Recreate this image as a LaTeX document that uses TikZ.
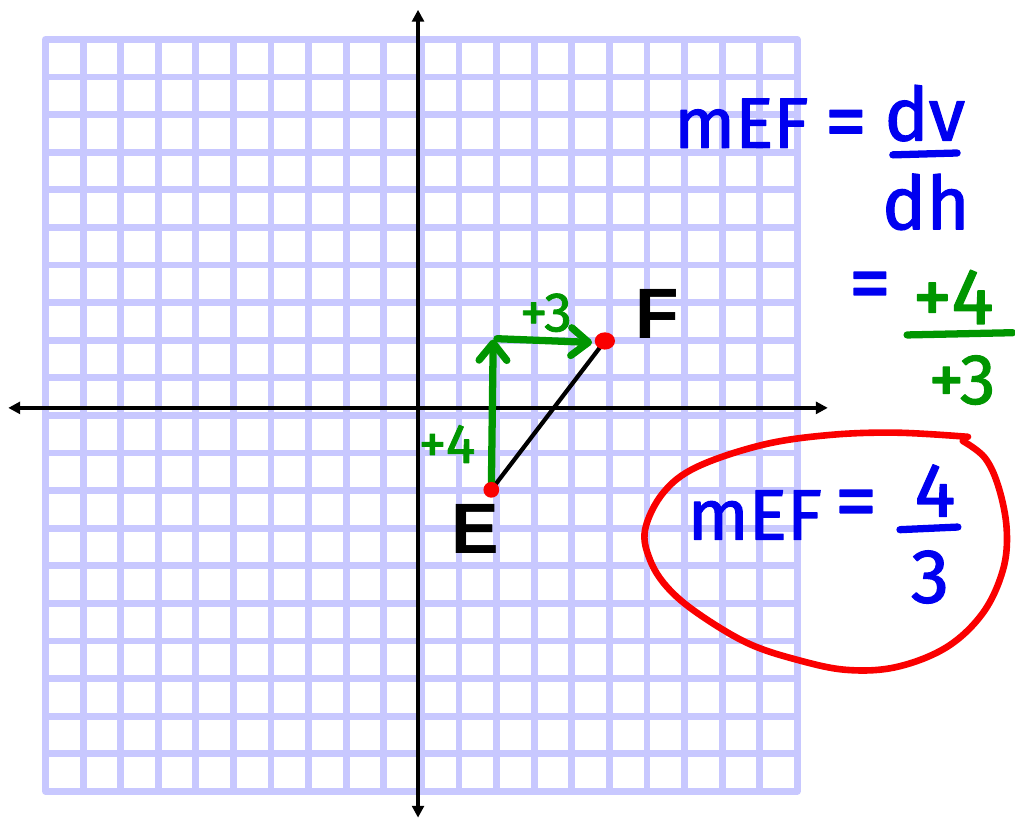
\documentclass[tikz,border=0pt]{standalone}
\usepackage{fontspec}
\setmainfont{Fira Sans}
\newfontfamily\handfont[FakeBold=1.6]{Fira Sans}
\newfontfamily\labelfont{Liberation Sans}
\usetikzlibrary{arrows.meta}
\definecolor{gridblue}{RGB}{200,200,255}
\definecolor{inkblue}{RGB}{0,0,240}
\definecolor{inkgreen}{RGB}{0,150,0}
\definecolor{inkred}{RGB}{250,0,0}

\begin{document}
\begin{tikzpicture}[
    line width=1.2pt,
    line cap=round,
    line join=round,
    gridline/.style={gridblue, line width=5.2pt, line cap=square},
    axisline/.style={line width=3pt, line cap=butt, {Triangle[length=9pt,width=9pt]}-{Triangle[length=9pt,width=9pt]}},
    greenarrow/.style={inkgreen, line width=5.5pt, -{Straight Barb[length=13pt,width=21pt,round]}},
    pointlabel/.style={font=\labelfont\bfseries\fontsize{54}{54}\selectfont},
    ink/.style={inner sep=0pt, font=\handfont\fontsize{#1}{#1}\selectfont},
    bluetext/.style={ink=#1, text=inkblue},
    greentext/.style={ink=#1, text=inkgreen}
]
\useasboundingbox (-11.12,-10.98) rectangle (15.88,10.85);

% 1. Grid and axes
\begin{scope}[shift={(0.09,-0.2)}]
\draw[gridline] (-10,-10) grid (10,10);
\end{scope}
\coordinate (xl) at (-10.9,0);
\coordinate (xr) at (10.9,0);
\coordinate (yt) at (0,10.59);
\coordinate (yb) at (0,-10.9);
\draw[axisline] (xl) -- (xr);
\draw[axisline] (yb) -- (yt);

% 2. Points E and F
\coordinate (E) at (1.95,-2.18);
\coordinate (F) at (4.97,1.78);
\draw[line width=3.2pt] (E) -- (F);
\coordinate (riseTop) at (2.0,1.82);
\coordinate (runStart) at (2.1,1.84);
\coordinate (runEnd) at (4.63,1.74);
\draw[greenarrow] (E) -- (riseTop);
\draw[greenarrow] (runStart) -- (runEnd);
\fill[inkred] (E) circle (0.21);
\fill[inkred] (F) ellipse [x radius=0.27, y radius=0.23];
\node[pointlabel] (labE) at (1.52,-3.23) {E};
\node[pointlabel] (labF) at (6.37,2.49) {F};
\node[greentext=42pt] (run) at (3.4,2.53) {+3};
\node[greentext=42pt] (rise) at (0.77,-0.96) {+4};

% 3. Slope formula
\node[bluetext=54pt] (mA) at (8.6,7.57) {mEF};
\node[bluetext=64pt] (eqA) at (11.38,7.39) {=};
\node[bluetext=56pt] (dv) at (13.48,7.84) {dv};
\draw[inkblue, line width=5.5pt] (12.63,6.73) -- (14.34,6.78);
\node[bluetext=56pt] (dh) at (13.51,5.48) {dh};
\node[bluetext=64pt] (eqB) at (12.02,3.09) {=};
\node[greentext=60pt] (num) at (14.23,2.95) {+4};
\draw[inkgreen, line width=5.5pt] (13.01,1.94) -- (15.82,2.0);
\node[greentext=54pt] (den) at (14.47,0.74) {+3};

% 4. Answer
\node[bluetext=54pt] (mB) at (8.96,-2.85) {mEF};
\node[bluetext=64pt] (eqC) at (11.65,-2.71) {=};
\node[bluetext=58pt] (four) at (13.75,-2.2) {4};
\draw[inkblue, line width=5.5pt] (12.82,-3.24) -- (14.36,-3.17);
\node[bluetext=58pt] (three) at (13.62,-4.5) {3};
\draw[inkred, line width=5pt] plot[smooth, tension=0.6] coordinates {
    (14.49,-0.88) (15.08,-1.33) (15.45,-2.13) (15.66,-3.24) (15.56,-4.31)
    (15.03,-5.45) (14.07,-6.36) (12.74,-6.89) (11.41,-6.97) (10.08,-6.70)
    (8.75,-6.25) (7.42,-5.45) (6.62,-4.76) (6.17,-4.04) (6.04,-3.24)
    (6.52,-2.26) (7.42,-1.57) (9.18,-0.98) (10.96,-0.72) (12.74,-0.66)
    (14.63,-0.77)};
\end{tikzpicture}
\end{document}
